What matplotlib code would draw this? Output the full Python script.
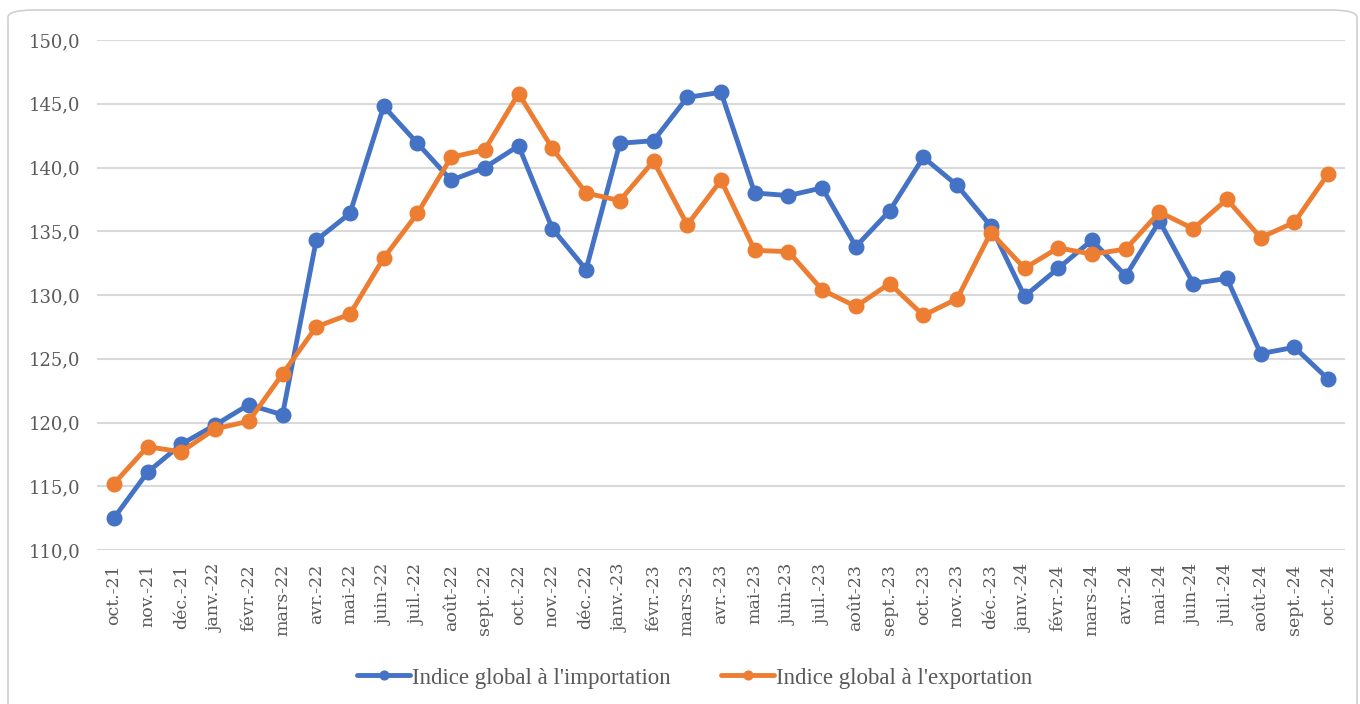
import matplotlib
matplotlib.use("Agg")
import matplotlib.pyplot as plt
from matplotlib.patches import FancyBboxPatch
from matplotlib.ticker import FuncFormatter

months = ["oct.-21", "nov.-21", "déc.-21", "janv.-22", "févr.-22", "mars-22", "avr.-22",
          "mai-22", "juin-22", "juil.-22", "août-22", "sept.-22", "oct.-22", "nov.-22",
          "déc.-22", "janv.-23", "févr.-23", "mars-23", "avr.-23", "mai-23", "juin-23",
          "juil.-23", "août-23", "sept.-23", "oct.-23", "nov.-23", "déc.-23", "janv.-24",
          "févr.-24", "mars-24", "avr.-24", "mai-24", "juin-24", "juil.-24", "août-24",
          "sept.-24", "oct.-24"]

import_idx = [112.5, 116.1, 118.3, 119.8, 121.4, 120.6, 134.3, 136.4, 144.8, 141.9,
              139.0, 140.0, 141.7, 135.2, 132.0, 141.9, 142.1, 145.5, 145.9, 138.0,
              137.8, 138.4, 133.8, 136.6, 140.8, 138.6, 135.4, 129.9, 132.1, 134.3,
              131.5, 135.8, 130.9, 131.3, 125.4, 125.9, 123.4]

export_idx = [115.2, 118.1, 117.7, 119.5, 120.1, 123.8, 127.5, 128.5, 132.9, 136.4,
              140.8, 141.4, 145.8, 141.5, 138.0, 137.4, 140.5, 135.5, 139.0, 133.5,
              133.4, 130.4, 129.1, 130.9, 128.4, 129.7, 134.9, 132.1, 133.7, 133.2,
              133.6, 136.5, 135.2, 137.5, 134.5, 135.7, 139.5]

series_names = ["Indice global à l'importation", "Indice global à l'exportation"]
colors = ["#4472C4", "#ED7D31"]

plt.rcParams['font.family'] = ['DejaVu Serif']

fig = plt.figure(figsize=(13.6, 7.04), dpi=100)
fig.patch.set_facecolor("white")

# chart border
border = FancyBboxPatch((8 / 1360, -0.05), 1349 / 1360, (704 - 10) / 704 + 0.05,
                        boxstyle="round,pad=0,rounding_size=0.02",
                        transform=fig.transFigure, facecolor="none",
                        edgecolor="#D0D0D0", linewidth=1.2, mutation_aspect=704 / 1360)
fig.patches.append(border)

ax = fig.add_axes([97 / 1360, 1 - 550 / 704, (1345 - 97) / 1360, (550 - 40) / 704])
x = list(range(len(months)))
for vals, name, c in zip([import_idx, export_idx], series_names, colors):
    ax.plot(x, vals, color=c, lw=3.5, marker="o", markersize=10.5, label=name,
            solid_joinstyle="round", solid_capstyle="round", zorder=3)

ax.set_xlim(-0.5, len(months) - 0.5)
ax.set_ylim(110, 150)
ax.set_yticks([110, 115, 120, 125, 130, 135, 140, 145, 150])
ax.yaxis.set_major_formatter(FuncFormatter(lambda v, p: f"{v:.1f}".replace(".", ",")))
ax.set_xticks(x)
ax.set_xticklabels(months, rotation=90)
ax.grid(axis="y", color="#D9D9D9", lw=1.5)
ax.set_axisbelow(True)
for s in ax.spines.values():
    s.set_visible(False)
ax.tick_params(axis="both", length=0, colors="#595959")
ax.tick_params(axis="y", pad=12, labelsize=13)
ax.tick_params(axis="x", pad=10, labelsize=12.5)

leg = fig.legend(loc="center", bbox_to_anchor=(0.511, 1 - 678 / 704), ncol=2,
                 frameon=False, handlelength=2.3, columnspacing=2.2,
                 handletextpad=0.1, markerscale=0.6,
                 prop={"family": "Liberation Serif", "size": 16.5})
for t in leg.get_texts():
    t.set_color("#595959")

fig.savefig("out.png", dpi=100, facecolor="white")
